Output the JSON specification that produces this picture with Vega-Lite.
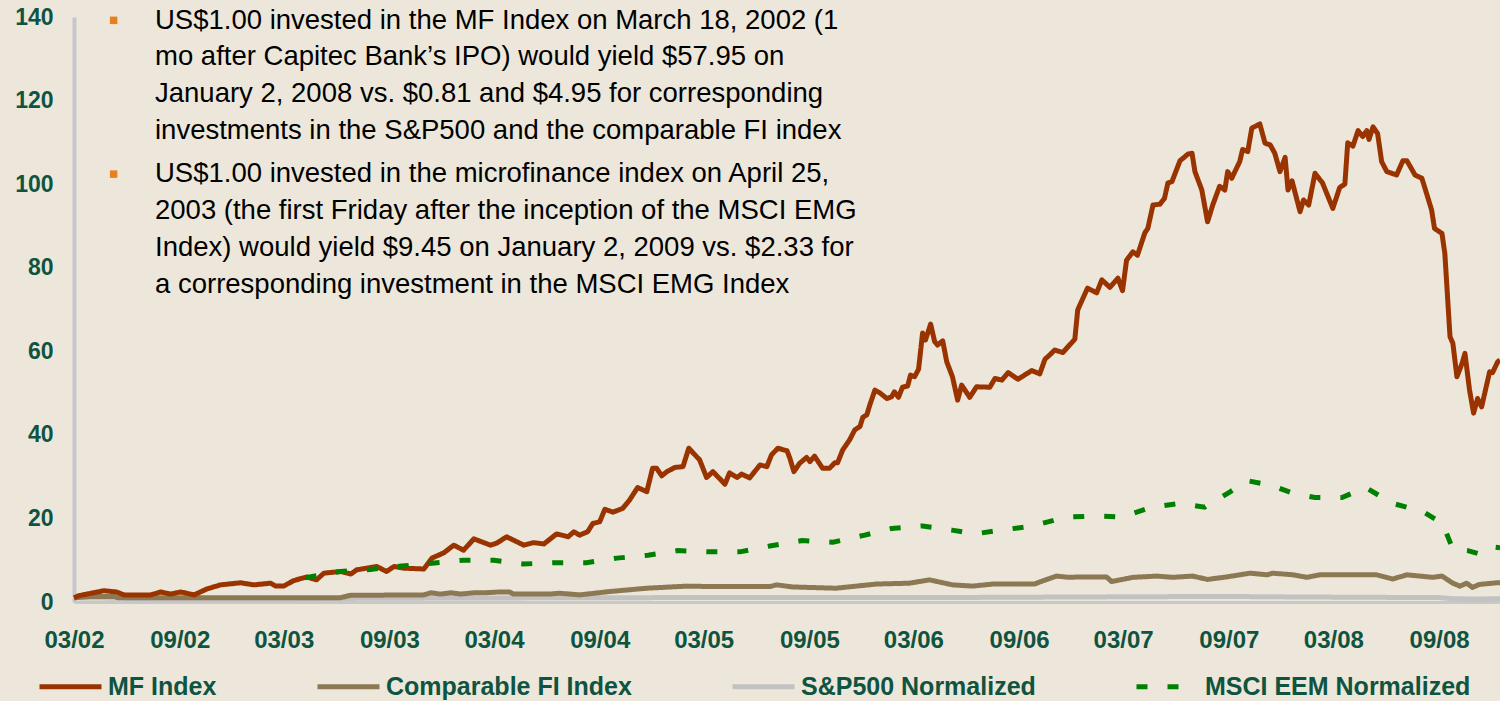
{
  "$schema": "https://vega.github.io/schema/vega-lite/v6.json",
  "width": 1426,
  "height": 585,
  "autosize": {"type": "none"},
  "padding": {"left": 74, "top": 17, "right": 0, "bottom": 99},
  "background": "#ece7da",
  "config": {"view": {"stroke": null}, "font": "Liberation Sans"},
  "datasets": {
    "notes": [
      {"line": "US$1.00 invested in the MF Index on March 18, 2002 (1", "date": "2002-08-06", "value": 139.0},
      {"line": "mo  after Capitec Bank’s IPO) would yield $57.95 on", "date": "2002-08-06", "value": 130.4},
      {"line": "January 2, 2008 vs. $0.81 and $4.95 for corresponding", "date": "2002-08-06", "value": 121.6},
      {"line": "investments in the S&P500 and the comparable FI index", "date": "2002-08-06", "value": 112.7},
      {"line": "US$1.00 invested in the microfinance index on April 25,", "date": "2002-08-06", "value": 102.4},
      {"line": "2003 (the first Friday after the inception of the MSCI EMG", "date": "2002-08-06", "value": 93.6},
      {"line": "Index) would yield $9.45 on January 2, 2009 vs. $2.33 for", "date": "2002-08-06", "value": 84.7},
      {"line": "a corresponding investment in the MSCI EMG Index", "date": "2002-08-06", "value": 75.9}
    ],
    "bullets": [
      {"date": "2002-05-26", "value": 139.2},
      {"date": "2002-05-26", "value": 102.4}
    ]
  },
  "data": {"values": [
    {"series": "S&P500 Normalized", "date": "2002-03-18", "value": 1.0},
    {"series": "S&P500 Normalized", "date": "2002-06-01", "value": 0.9},
    {"series": "S&P500 Normalized", "date": "2002-07-20", "value": 0.75},
    {"series": "S&P500 Normalized", "date": "2002-10-10", "value": 0.7},
    {"series": "S&P500 Normalized", "date": "2003-03-10", "value": 0.7},
    {"series": "S&P500 Normalized", "date": "2003-06-15", "value": 0.85},
    {"series": "S&P500 Normalized", "date": "2003-12-31", "value": 0.95},
    {"series": "S&P500 Normalized", "date": "2004-06-30", "value": 1.0},
    {"series": "S&P500 Normalized", "date": "2004-12-31", "value": 1.05},
    {"series": "S&P500 Normalized", "date": "2005-06-30", "value": 1.05},
    {"series": "S&P500 Normalized", "date": "2005-12-31", "value": 1.1},
    {"series": "S&P500 Normalized", "date": "2006-06-30", "value": 1.1},
    {"series": "S&P500 Normalized", "date": "2006-12-31", "value": 1.2},
    {"series": "S&P500 Normalized", "date": "2007-06-30", "value": 1.3},
    {"series": "S&P500 Normalized", "date": "2007-10-10", "value": 1.3},
    {"series": "S&P500 Normalized", "date": "2008-01-20", "value": 1.2},
    {"series": "S&P500 Normalized", "date": "2008-06-30", "value": 1.1},
    {"series": "S&P500 Normalized", "date": "2008-09-15", "value": 1.1},
    {"series": "S&P500 Normalized", "date": "2008-10-10", "value": 0.8},
    {"series": "S&P500 Normalized", "date": "2008-11-20", "value": 0.7},
    {"series": "S&P500 Normalized", "date": "2009-01-02", "value": 0.8},

    {"series": "Comparable FI Index", "date": "2002-03-18", "value": 1.0},
    {"series": "Comparable FI Index", "date": "2002-04-14", "value": 1.3},
    {"series": "Comparable FI Index", "date": "2002-05-28", "value": 1.3},
    {"series": "Comparable FI Index", "date": "2002-06-02", "value": 1.0},
    {"series": "Comparable FI Index", "date": "2003-06-24", "value": 1.0},
    {"series": "Comparable FI Index", "date": "2003-07-12", "value": 1.6},
    {"series": "Comparable FI Index", "date": "2003-11-17", "value": 1.7},
    {"series": "Comparable FI Index", "date": "2003-11-29", "value": 2.2},
    {"series": "Comparable FI Index", "date": "2003-12-16", "value": 1.9},
    {"series": "Comparable FI Index", "date": "2004-01-03", "value": 2.2},
    {"series": "Comparable FI Index", "date": "2004-01-20", "value": 1.9},
    {"series": "Comparable FI Index", "date": "2004-02-12", "value": 2.2},
    {"series": "Comparable FI Index", "date": "2004-02-29", "value": 2.2},
    {"series": "Comparable FI Index", "date": "2004-03-28", "value": 2.4},
    {"series": "Comparable FI Index", "date": "2004-04-14", "value": 2.4},
    {"series": "Comparable FI Index", "date": "2004-04-21", "value": 1.9},
    {"series": "Comparable FI Index", "date": "2004-06-23", "value": 1.9},
    {"series": "Comparable FI Index", "date": "2004-07-10", "value": 2.1},
    {"series": "Comparable FI Index", "date": "2004-08-14", "value": 1.7},
    {"series": "Comparable FI Index", "date": "2004-10-05", "value": 2.5},
    {"series": "Comparable FI Index", "date": "2004-12-09", "value": 3.3},
    {"series": "Comparable FI Index", "date": "2005-02-17", "value": 3.8},
    {"series": "Comparable FI Index", "date": "2005-03-29", "value": 3.7},
    {"series": "Comparable FI Index", "date": "2005-07-11", "value": 3.7},
    {"series": "Comparable FI Index", "date": "2005-07-23", "value": 4.1},
    {"series": "Comparable FI Index", "date": "2005-08-20", "value": 3.6},
    {"series": "Comparable FI Index", "date": "2005-11-03", "value": 3.3},
    {"series": "Comparable FI Index", "date": "2006-01-13", "value": 4.3},
    {"series": "Comparable FI Index", "date": "2006-03-11", "value": 4.5},
    {"series": "Comparable FI Index", "date": "2006-04-15", "value": 5.3},
    {"series": "Comparable FI Index", "date": "2006-05-25", "value": 4.1},
    {"series": "Comparable FI Index", "date": "2006-06-29", "value": 3.8},
    {"series": "Comparable FI Index", "date": "2006-08-03", "value": 4.3},
    {"series": "Comparable FI Index", "date": "2006-10-15", "value": 4.3},
    {"series": "Comparable FI Index", "date": "2006-10-24", "value": 4.8},
    {"series": "Comparable FI Index", "date": "2006-11-22", "value": 6.2},
    {"series": "Comparable FI Index", "date": "2006-12-14", "value": 5.9},
    {"series": "Comparable FI Index", "date": "2007-01-01", "value": 6.0},
    {"series": "Comparable FI Index", "date": "2007-02-17", "value": 6.0},
    {"series": "Comparable FI Index", "date": "2007-02-26", "value": 4.9},
    {"series": "Comparable FI Index", "date": "2007-04-04", "value": 5.9},
    {"series": "Comparable FI Index", "date": "2007-05-16", "value": 6.2},
    {"series": "Comparable FI Index", "date": "2007-06-12", "value": 5.9},
    {"series": "Comparable FI Index", "date": "2007-07-17", "value": 6.2},
    {"series": "Comparable FI Index", "date": "2007-08-12", "value": 5.4},
    {"series": "Comparable FI Index", "date": "2007-09-14", "value": 6.0},
    {"series": "Comparable FI Index", "date": "2007-10-25", "value": 6.9},
    {"series": "Comparable FI Index", "date": "2007-11-24", "value": 6.5},
    {"series": "Comparable FI Index", "date": "2007-12-03", "value": 6.9},
    {"series": "Comparable FI Index", "date": "2008-01-08", "value": 6.5},
    {"series": "Comparable FI Index", "date": "2008-02-01", "value": 5.9},
    {"series": "Comparable FI Index", "date": "2008-02-23", "value": 6.5},
    {"series": "Comparable FI Index", "date": "2008-06-01", "value": 6.5},
    {"series": "Comparable FI Index", "date": "2008-06-29", "value": 5.5},
    {"series": "Comparable FI Index", "date": "2008-07-24", "value": 6.5},
    {"series": "Comparable FI Index", "date": "2008-09-07", "value": 5.9},
    {"series": "Comparable FI Index", "date": "2008-09-23", "value": 6.2},
    {"series": "Comparable FI Index", "date": "2008-10-12", "value": 4.5},
    {"series": "Comparable FI Index", "date": "2008-10-24", "value": 3.8},
    {"series": "Comparable FI Index", "date": "2008-11-05", "value": 4.5},
    {"series": "Comparable FI Index", "date": "2008-11-15", "value": 3.5},
    {"series": "Comparable FI Index", "date": "2008-11-27", "value": 4.2},
    {"series": "Comparable FI Index", "date": "2008-12-27", "value": 4.6},
    {"series": "Comparable FI Index", "date": "2009-01-02", "value": 4.6},

    {"series": "MF Index", "date": "2002-03-18", "value": 1.0},
    {"series": "MF Index", "date": "2002-03-26", "value": 1.5},
    {"series": "MF Index", "date": "2002-05-09", "value": 2.7},
    {"series": "MF Index", "date": "2002-05-31", "value": 2.4},
    {"series": "MF Index", "date": "2002-06-13", "value": 1.7},
    {"series": "MF Index", "date": "2002-07-30", "value": 1.7},
    {"series": "MF Index", "date": "2002-08-16", "value": 2.4},
    {"series": "MF Index", "date": "2002-09-02", "value": 1.9},
    {"series": "MF Index", "date": "2002-09-20", "value": 2.4},
    {"series": "MF Index", "date": "2002-10-13", "value": 1.7},
    {"series": "MF Index", "date": "2002-11-04", "value": 3.1},
    {"series": "MF Index", "date": "2002-11-28", "value": 4.1},
    {"series": "MF Index", "date": "2003-01-02", "value": 4.6},
    {"series": "MF Index", "date": "2003-01-25", "value": 4.1},
    {"series": "MF Index", "date": "2003-02-23", "value": 4.5},
    {"series": "MF Index", "date": "2003-03-04", "value": 3.8},
    {"series": "MF Index", "date": "2003-03-18", "value": 3.8},
    {"series": "MF Index", "date": "2003-04-04", "value": 5.1},
    {"series": "MF Index", "date": "2003-04-27", "value": 6.0},
    {"series": "MF Index", "date": "2003-05-14", "value": 5.3},
    {"series": "MF Index", "date": "2003-05-27", "value": 6.9},
    {"series": "MF Index", "date": "2003-06-25", "value": 7.3},
    {"series": "MF Index", "date": "2003-07-13", "value": 6.7},
    {"series": "MF Index", "date": "2003-07-23", "value": 7.7},
    {"series": "MF Index", "date": "2003-08-27", "value": 8.5},
    {"series": "MF Index", "date": "2003-09-13", "value": 7.3},
    {"series": "MF Index", "date": "2003-09-26", "value": 8.5},
    {"series": "MF Index", "date": "2003-10-13", "value": 8.1},
    {"series": "MF Index", "date": "2003-11-17", "value": 7.9},
    {"series": "MF Index", "date": "2003-12-01", "value": 10.5},
    {"series": "MF Index", "date": "2003-12-22", "value": 11.8},
    {"series": "MF Index", "date": "2004-01-08", "value": 13.6},
    {"series": "MF Index", "date": "2004-01-25", "value": 12.4},
    {"series": "MF Index", "date": "2004-02-12", "value": 15.1},
    {"series": "MF Index", "date": "2004-03-12", "value": 13.6},
    {"series": "MF Index", "date": "2004-03-23", "value": 14.1},
    {"series": "MF Index", "date": "2004-04-09", "value": 15.6},
    {"series": "MF Index", "date": "2004-05-09", "value": 13.6},
    {"series": "MF Index", "date": "2004-05-26", "value": 14.2},
    {"series": "MF Index", "date": "2004-06-13", "value": 13.9},
    {"series": "MF Index", "date": "2004-07-05", "value": 16.3},
    {"series": "MF Index", "date": "2004-07-25", "value": 15.6},
    {"series": "MF Index", "date": "2004-08-04", "value": 16.8},
    {"series": "MF Index", "date": "2004-08-14", "value": 16.0},
    {"series": "MF Index", "date": "2004-08-28", "value": 16.8},
    {"series": "MF Index", "date": "2004-09-06", "value": 18.8},
    {"series": "MF Index", "date": "2004-09-18", "value": 19.2},
    {"series": "MF Index", "date": "2004-09-27", "value": 22.2},
    {"series": "MF Index", "date": "2004-10-11", "value": 21.5},
    {"series": "MF Index", "date": "2004-10-28", "value": 22.4},
    {"series": "MF Index", "date": "2004-11-09", "value": 24.4},
    {"series": "MF Index", "date": "2004-11-23", "value": 27.4},
    {"series": "MF Index", "date": "2004-12-09", "value": 26.4},
    {"series": "MF Index", "date": "2004-12-19", "value": 32.0},
    {"series": "MF Index", "date": "2004-12-26", "value": 32.0},
    {"series": "MF Index", "date": "2005-01-04", "value": 30.2},
    {"series": "MF Index", "date": "2005-01-13", "value": 31.2},
    {"series": "MF Index", "date": "2005-01-27", "value": 32.2},
    {"series": "MF Index", "date": "2005-02-10", "value": 32.4},
    {"series": "MF Index", "date": "2005-02-20", "value": 36.8},
    {"series": "MF Index", "date": "2005-03-11", "value": 34.0},
    {"series": "MF Index", "date": "2005-03-23", "value": 29.8},
    {"series": "MF Index", "date": "2005-04-03", "value": 31.2},
    {"series": "MF Index", "date": "2005-04-24", "value": 28.2},
    {"series": "MF Index", "date": "2005-05-02", "value": 30.9},
    {"series": "MF Index", "date": "2005-05-15", "value": 29.8},
    {"series": "MF Index", "date": "2005-05-23", "value": 30.6},
    {"series": "MF Index", "date": "2005-06-06", "value": 29.7},
    {"series": "MF Index", "date": "2005-06-24", "value": 32.8},
    {"series": "MF Index", "date": "2005-07-06", "value": 32.4},
    {"series": "MF Index", "date": "2005-07-14", "value": 35.2},
    {"series": "MF Index", "date": "2005-07-25", "value": 36.8},
    {"series": "MF Index", "date": "2005-08-10", "value": 36.2},
    {"series": "MF Index", "date": "2005-08-15", "value": 34.4},
    {"series": "MF Index", "date": "2005-08-22", "value": 31.2},
    {"series": "MF Index", "date": "2005-09-01", "value": 33.2},
    {"series": "MF Index", "date": "2005-09-13", "value": 34.6},
    {"series": "MF Index", "date": "2005-09-19", "value": 33.6},
    {"series": "MF Index", "date": "2005-09-27", "value": 34.9},
    {"series": "MF Index", "date": "2005-10-11", "value": 32.0},
    {"series": "MF Index", "date": "2005-10-23", "value": 32.0},
    {"series": "MF Index", "date": "2005-11-01", "value": 33.3},
    {"series": "MF Index", "date": "2005-11-06", "value": 33.3},
    {"series": "MF Index", "date": "2005-11-15", "value": 36.4},
    {"series": "MF Index", "date": "2005-11-27", "value": 38.8},
    {"series": "MF Index", "date": "2005-12-06", "value": 41.2},
    {"series": "MF Index", "date": "2005-12-15", "value": 42.0},
    {"series": "MF Index", "date": "2005-12-20", "value": 44.2},
    {"series": "MF Index", "date": "2005-12-27", "value": 44.8},
    {"series": "MF Index", "date": "2006-01-01", "value": 47.1},
    {"series": "MF Index", "date": "2006-01-10", "value": 50.7},
    {"series": "MF Index", "date": "2006-01-18", "value": 50.1},
    {"series": "MF Index", "date": "2006-01-31", "value": 48.7},
    {"series": "MF Index", "date": "2006-02-08", "value": 49.1},
    {"series": "MF Index", "date": "2006-02-13", "value": 50.3},
    {"series": "MF Index", "date": "2006-02-20", "value": 49.0},
    {"series": "MF Index", "date": "2006-02-27", "value": 51.4},
    {"series": "MF Index", "date": "2006-03-08", "value": 51.7},
    {"series": "MF Index", "date": "2006-03-13", "value": 54.3},
    {"series": "MF Index", "date": "2006-03-20", "value": 53.9},
    {"series": "MF Index", "date": "2006-03-27", "value": 55.7},
    {"series": "MF Index", "date": "2006-04-03", "value": 64.4},
    {"series": "MF Index", "date": "2006-04-08", "value": 62.7},
    {"series": "MF Index", "date": "2006-04-17", "value": 66.5},
    {"series": "MF Index", "date": "2006-04-24", "value": 62.3},
    {"series": "MF Index", "date": "2006-04-29", "value": 61.5},
    {"series": "MF Index", "date": "2006-05-08", "value": 62.5},
    {"series": "MF Index", "date": "2006-05-15", "value": 57.5},
    {"series": "MF Index", "date": "2006-05-25", "value": 53.9},
    {"series": "MF Index", "date": "2006-06-03", "value": 48.3},
    {"series": "MF Index", "date": "2006-06-10", "value": 51.9},
    {"series": "MF Index", "date": "2006-06-24", "value": 49.0},
    {"series": "MF Index", "date": "2006-07-06", "value": 51.5},
    {"series": "MF Index", "date": "2006-07-29", "value": 51.4},
    {"series": "MF Index", "date": "2006-08-07", "value": 53.5},
    {"series": "MF Index", "date": "2006-08-19", "value": 53.1},
    {"series": "MF Index", "date": "2006-08-30", "value": 54.9},
    {"series": "MF Index", "date": "2006-09-16", "value": 53.3},
    {"series": "MF Index", "date": "2006-10-10", "value": 55.4},
    {"series": "MF Index", "date": "2006-10-24", "value": 54.6},
    {"series": "MF Index", "date": "2006-11-02", "value": 58.1},
    {"series": "MF Index", "date": "2006-11-10", "value": 59.1},
    {"series": "MF Index", "date": "2006-11-19", "value": 60.3},
    {"series": "MF Index", "date": "2006-12-03", "value": 59.7},
    {"series": "MF Index", "date": "2006-12-24", "value": 62.9},
    {"series": "MF Index", "date": "2006-12-29", "value": 69.9},
    {"series": "MF Index", "date": "2007-01-15", "value": 75.1},
    {"series": "MF Index", "date": "2007-01-31", "value": 74.0},
    {"series": "MF Index", "date": "2007-02-09", "value": 77.1},
    {"series": "MF Index", "date": "2007-02-23", "value": 75.3},
    {"series": "MF Index", "date": "2007-03-09", "value": 77.5},
    {"series": "MF Index", "date": "2007-03-17", "value": 74.5},
    {"series": "MF Index", "date": "2007-03-24", "value": 81.8},
    {"series": "MF Index", "date": "2007-04-04", "value": 83.8},
    {"series": "MF Index", "date": "2007-04-12", "value": 83.0},
    {"series": "MF Index", "date": "2007-04-25", "value": 88.4},
    {"series": "MF Index", "date": "2007-04-30", "value": 89.4},
    {"series": "MF Index", "date": "2007-05-09", "value": 95.0},
    {"series": "MF Index", "date": "2007-05-21", "value": 95.2},
    {"series": "MF Index", "date": "2007-05-29", "value": 96.6},
    {"series": "MF Index", "date": "2007-06-04", "value": 100.3},
    {"series": "MF Index", "date": "2007-06-11", "value": 100.6},
    {"series": "MF Index", "date": "2007-06-25", "value": 105.6},
    {"series": "MF Index", "date": "2007-07-09", "value": 107.2},
    {"series": "MF Index", "date": "2007-07-16", "value": 107.4},
    {"series": "MF Index", "date": "2007-07-21", "value": 103.0},
    {"series": "MF Index", "date": "2007-08-02", "value": 98.6},
    {"series": "MF Index", "date": "2007-08-12", "value": 91.0},
    {"series": "MF Index", "date": "2007-08-21", "value": 95.0},
    {"series": "MF Index", "date": "2007-09-02", "value": 99.5},
    {"series": "MF Index", "date": "2007-09-11", "value": 98.6},
    {"series": "MF Index", "date": "2007-09-16", "value": 103.0},
    {"series": "MF Index", "date": "2007-09-23", "value": 101.4},
    {"series": "MF Index", "date": "2007-10-07", "value": 105.4},
    {"series": "MF Index", "date": "2007-10-12", "value": 108.3},
    {"series": "MF Index", "date": "2007-10-21", "value": 107.8},
    {"series": "MF Index", "date": "2007-10-28", "value": 113.4},
    {"series": "MF Index", "date": "2007-11-11", "value": 114.4},
    {"series": "MF Index", "date": "2007-11-20", "value": 109.8},
    {"series": "MF Index", "date": "2007-11-29", "value": 109.4},
    {"series": "MF Index", "date": "2007-12-07", "value": 107.4},
    {"series": "MF Index", "date": "2007-12-16", "value": 103.0},
    {"series": "MF Index", "date": "2007-12-25", "value": 106.4},
    {"series": "MF Index", "date": "2007-12-30", "value": 98.6},
    {"series": "MF Index", "date": "2008-01-06", "value": 100.8},
    {"series": "MF Index", "date": "2008-01-20", "value": 93.4},
    {"series": "MF Index", "date": "2008-01-26", "value": 96.2},
    {"series": "MF Index", "date": "2008-02-04", "value": 95.0},
    {"series": "MF Index", "date": "2008-02-15", "value": 102.6},
    {"series": "MF Index", "date": "2008-02-28", "value": 100.3},
    {"series": "MF Index", "date": "2008-03-17", "value": 94.2},
    {"series": "MF Index", "date": "2008-03-29", "value": 99.2},
    {"series": "MF Index", "date": "2008-04-07", "value": 100.0},
    {"series": "MF Index", "date": "2008-04-12", "value": 109.9},
    {"series": "MF Index", "date": "2008-04-21", "value": 109.1},
    {"series": "MF Index", "date": "2008-04-30", "value": 112.8},
    {"series": "MF Index", "date": "2008-05-08", "value": 111.4},
    {"series": "MF Index", "date": "2008-05-15", "value": 112.8},
    {"series": "MF Index", "date": "2008-05-19", "value": 110.7},
    {"series": "MF Index", "date": "2008-05-26", "value": 113.7},
    {"series": "MF Index", "date": "2008-06-03", "value": 112.1},
    {"series": "MF Index", "date": "2008-06-10", "value": 105.4},
    {"series": "MF Index", "date": "2008-06-19", "value": 103.0},
    {"series": "MF Index", "date": "2008-07-06", "value": 102.2},
    {"series": "MF Index", "date": "2008-07-17", "value": 105.6},
    {"series": "MF Index", "date": "2008-07-24", "value": 105.6},
    {"series": "MF Index", "date": "2008-08-07", "value": 102.2},
    {"series": "MF Index", "date": "2008-08-19", "value": 101.4},
    {"series": "MF Index", "date": "2008-08-24", "value": 99.2},
    {"series": "MF Index", "date": "2008-09-05", "value": 93.8},
    {"series": "MF Index", "date": "2008-09-10", "value": 89.4},
    {"series": "MF Index", "date": "2008-09-23", "value": 88.2},
    {"series": "MF Index", "date": "2008-09-28", "value": 83.4},
    {"series": "MF Index", "date": "2008-10-07", "value": 63.5},
    {"series": "MF Index", "date": "2008-10-12", "value": 61.9},
    {"series": "MF Index", "date": "2008-10-19", "value": 53.9},
    {"series": "MF Index", "date": "2008-10-28", "value": 57.1},
    {"series": "MF Index", "date": "2008-11-02", "value": 59.5},
    {"series": "MF Index", "date": "2008-11-10", "value": 50.7},
    {"series": "MF Index", "date": "2008-11-17", "value": 45.2},
    {"series": "MF Index", "date": "2008-11-24", "value": 48.7},
    {"series": "MF Index", "date": "2008-12-01", "value": 46.7},
    {"series": "MF Index", "date": "2008-12-15", "value": 55.1},
    {"series": "MF Index", "date": "2008-12-20", "value": 54.9},
    {"series": "MF Index", "date": "2008-12-29", "value": 57.5},
    {"series": "MF Index", "date": "2009-01-02", "value": 57.9},

    {"series": "MSCI EEM Normalized", "date": "2003-04-25", "value": 5.8},
    {"series": "MSCI EEM Normalized", "date": "2003-06-25", "value": 7.3},
    {"series": "MSCI EEM Normalized", "date": "2003-08-16", "value": 7.8},
    {"series": "MSCI EEM Normalized", "date": "2003-10-09", "value": 8.6},
    {"series": "MSCI EEM Normalized", "date": "2003-12-01", "value": 9.3},
    {"series": "MSCI EEM Normalized", "date": "2004-01-25", "value": 10.0},
    {"series": "MSCI EEM Normalized", "date": "2004-03-18", "value": 10.0},
    {"series": "MSCI EEM Normalized", "date": "2004-05-09", "value": 9.1},
    {"series": "MSCI EEM Normalized", "date": "2004-06-30", "value": 9.4},
    {"series": "MSCI EEM Normalized", "date": "2004-08-26", "value": 9.4},
    {"series": "MSCI EEM Normalized", "date": "2004-10-18", "value": 10.5},
    {"series": "MSCI EEM Normalized", "date": "2004-12-11", "value": 11.2},
    {"series": "MSCI EEM Normalized", "date": "2005-02-01", "value": 12.3},
    {"series": "MSCI EEM Normalized", "date": "2005-03-29", "value": 12.0},
    {"series": "MSCI EEM Normalized", "date": "2005-05-20", "value": 12.0},
    {"series": "MSCI EEM Normalized", "date": "2005-07-11", "value": 13.4},
    {"series": "MSCI EEM Normalized", "date": "2005-09-05", "value": 14.7},
    {"series": "MSCI EEM Normalized", "date": "2005-10-29", "value": 14.3},
    {"series": "MSCI EEM Normalized", "date": "2005-12-20", "value": 15.9},
    {"series": "MSCI EEM Normalized", "date": "2006-02-08", "value": 17.6},
    {"series": "MSCI EEM Normalized", "date": "2006-04-03", "value": 18.2},
    {"series": "MSCI EEM Normalized", "date": "2006-05-24", "value": 17.2},
    {"series": "MSCI EEM Normalized", "date": "2006-07-03", "value": 16.3},
    {"series": "MSCI EEM Normalized", "date": "2006-08-23", "value": 17.3},
    {"series": "MSCI EEM Normalized", "date": "2006-10-12", "value": 18.2},
    {"series": "MSCI EEM Normalized", "date": "2006-12-07", "value": 20.3},
    {"series": "MSCI EEM Normalized", "date": "2007-01-31", "value": 20.6},
    {"series": "MSCI EEM Normalized", "date": "2007-03-16", "value": 20.3},
    {"series": "MSCI EEM Normalized", "date": "2007-05-07", "value": 22.7},
    {"series": "MSCI EEM Normalized", "date": "2007-06-25", "value": 23.6},
    {"series": "MSCI EEM Normalized", "date": "2007-08-07", "value": 22.7},
    {"series": "MSCI EEM Normalized", "date": "2007-09-16", "value": 26.0},
    {"series": "MSCI EEM Normalized", "date": "2007-10-21", "value": 29.0},
    {"series": "MSCI EEM Normalized", "date": "2007-11-29", "value": 28.0},
    {"series": "MSCI EEM Normalized", "date": "2008-01-08", "value": 26.0},
    {"series": "MSCI EEM Normalized", "date": "2008-02-15", "value": 25.0},
    {"series": "MSCI EEM Normalized", "date": "2008-04-02", "value": 25.0},
    {"series": "MSCI EEM Normalized", "date": "2008-05-13", "value": 27.4},
    {"series": "MSCI EEM Normalized", "date": "2008-06-29", "value": 23.6},
    {"series": "MSCI EEM Normalized", "date": "2008-08-20", "value": 21.7},
    {"series": "MSCI EEM Normalized", "date": "2008-09-24", "value": 18.8},
    {"series": "MSCI EEM Normalized", "date": "2008-10-12", "value": 12.6},
    {"series": "MSCI EEM Normalized", "date": "2008-11-07", "value": 12.3},
    {"series": "MSCI EEM Normalized", "date": "2008-11-27", "value": 11.5},
    {"series": "MSCI EEM Normalized", "date": "2008-12-20", "value": 13.2},
    {"series": "MSCI EEM Normalized", "date": "2009-01-02", "value": 13.0}
  ]},
  "encoding": {
    "x": {
      "field": "date", "type": "temporal",
      "scale": {"type": "utc", "domain": [{"year": 2002, "month": 3, "date": 18, "utc": true}, {"year": 2009, "month": 1, "date": 2, "utc": true}]},
      "axis": {
        "title": null, "format": "%m/%y", "grid": false, "ticks": false,
        "labelFlush": false, "labelOverlap": false,
        "values": [
          {"year": 2002, "month": 3, "date": 18, "utc": true},
          {"year": 2002, "month": 9, "date": 18, "utc": true},
          {"year": 2003, "month": 3, "date": 18, "utc": true},
          {"year": 2003, "month": 9, "date": 18, "utc": true},
          {"year": 2004, "month": 3, "date": 18, "utc": true},
          {"year": 2004, "month": 9, "date": 18, "utc": true},
          {"year": 2005, "month": 3, "date": 18, "utc": true},
          {"year": 2005, "month": 9, "date": 18, "utc": true},
          {"year": 2006, "month": 3, "date": 18, "utc": true},
          {"year": 2006, "month": 9, "date": 18, "utc": true},
          {"year": 2007, "month": 3, "date": 18, "utc": true},
          {"year": 2007, "month": 9, "date": 18, "utc": true},
          {"year": 2008, "month": 3, "date": 18, "utc": true},
          {"year": 2008, "month": 9, "date": 18, "utc": true}
        ],
        "labelFont": "Liberation Sans", "labelFontSize": 24, "labelFontWeight": "bold",
        "labelColor": "#0f5440", "labelPadding": 26,
        "domainColor": "#c8c8c8", "domainWidth": 3
      }
    },
    "y": {
      "field": "value", "type": "quantitative",
      "scale": {"domain": [0, 140], "nice": false},
      "axis": {
        "title": null, "values": [0, 20, 40, 60, 80, 100, 120, 140], "grid": false, "ticks": false,
        "labelFont": "Liberation Sans", "labelFontSize": 23, "labelFontWeight": "bold",
        "labelColor": "#0f5440", "labelPadding": 21,
        "domainColor": "#c6c6cc", "domainWidth": 4
      }
    }
  },
  "layer": [
    {
      "transform": [{"filter": "datum.series === 'S&P500 Normalized'"}],
      "mark": {"type": "line", "strokeWidth": 5, "strokeJoin": "round"},
      "encoding": {
        "color": {"field": "series", "type": "nominal",
          "scale": {"domain": ["MF Index", "Comparable FI Index", "S&P500 Normalized", "MSCI EEM Normalized"], "range": ["#993300", "#8c7853", "#c2c2c2", "#008000"]},
          "legend": {"orient": "none", "legendX": -37, "legendY": 636, "direction": "horizontal", "columns": 4, "title": null, "symbolType": "stroke", "symbolSize": 3844, "symbolStrokeWidth": 5, "labelFont": "Liberation Sans", "labelFontSize": 25, "labelFontWeight": "bold", "labelColor": "#0f5440", "labelOffset": 4, "columnPadding": 90, "labelLimit": 400, "padding": 0}},
        "strokeDash": {"field": "series", "type": "nominal",
          "scale": {"domain": ["MF Index", "Comparable FI Index", "S&P500 Normalized", "MSCI EEM Normalized"], "range": [[1, 0], [1, 0], [1, 0], [11, 20]]},
          "legend": {"orient": "none", "legendX": -37, "legendY": 636, "direction": "horizontal", "columns": 4, "title": null, "symbolType": "stroke", "symbolSize": 3844, "symbolStrokeWidth": 5, "labelFont": "Liberation Sans", "labelFontSize": 25, "labelFontWeight": "bold", "labelColor": "#0f5440", "labelOffset": 4, "columnPadding": 90, "labelLimit": 400, "padding": 0}}
      }
    },
    {
      "transform": [{"filter": "datum.series === 'Comparable FI Index'"}],
      "mark": {"type": "line", "strokeWidth": 5, "strokeJoin": "round"},
      "encoding": {
        "color": {"field": "series", "type": "nominal"},
        "strokeDash": {"field": "series", "type": "nominal"}
      }
    },
    {
      "transform": [{"filter": "datum.series === 'MF Index'"}],
      "mark": {"type": "line", "strokeWidth": 5, "strokeJoin": "round"},
      "encoding": {
        "color": {"field": "series", "type": "nominal"},
        "strokeDash": {"field": "series", "type": "nominal"}
      }
    },
    {
      "transform": [{"filter": "datum.series === 'MSCI EEM Normalized'"}],
      "mark": {"type": "line", "strokeWidth": 5},
      "encoding": {
        "color": {"field": "series", "type": "nominal"},
        "strokeDash": {"field": "series", "type": "nominal"}
      }
    },
    {
      "data": {"name": "bullets"},
      "mark": {"type": "point", "shape": "square", "filled": true, "size": 56, "color": "#e8801c", "opacity": 1},
      "encoding": {
        "x": {"field": "date", "type": "temporal"},
        "y": {"field": "value", "type": "quantitative"}
      }
    },
    {
      "data": {"name": "notes"},
      "mark": {"type": "text", "align": "left", "baseline": "middle", "font": "Liberation Sans", "fontSize": 27.5, "color": "#000000"},
      "encoding": {
        "x": {"field": "date", "type": "temporal"},
        "y": {"field": "value", "type": "quantitative"},
        "text": {"field": "line"}
      }
    }
  ]
}
